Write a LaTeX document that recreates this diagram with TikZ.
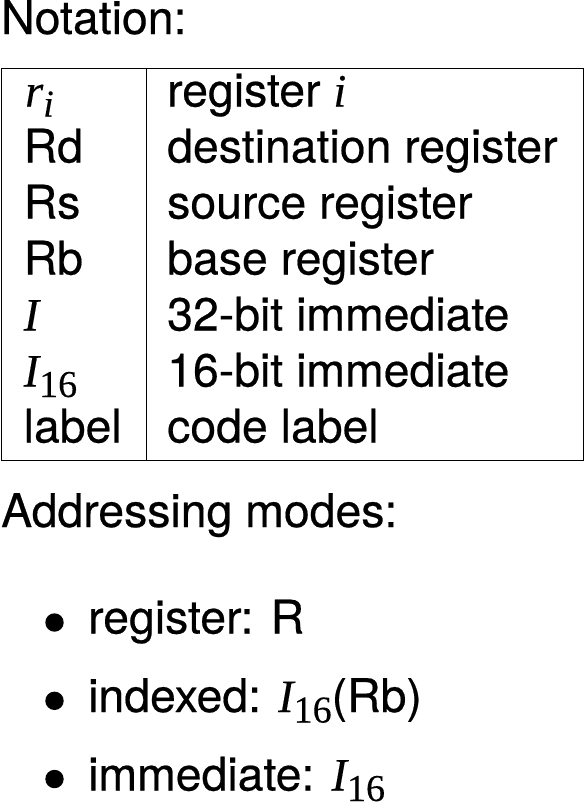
\documentclass[tikz,border=0pt]{standalone}
\usepackage{fontspec}
\setmainfont[FakeBold=0.4]{TeX Gyre Heros}
\newfontfamily\tms[FakeBold=0.2]{Liberation Serif}
\newcommand\mvar[1]{{\tms\itshape #1}}
\newcommand\msub[2]{\raisebox{-#1pt}{\fontsize{38}{38}\selectfont #2}}
\begin{document}
\begin{tikzpicture}[x=1pt,y=-1pt,
  txt/.style={anchor=base west,inner sep=0pt,font=\fontsize{46.4}{46.4}\selectfont},
  bul/.style={fill=black}]
\useasboundingbox (0,0) rectangle (585,803);
\node[txt] (notation) at (1,34) {Notation:};
\node[draw,line width=1pt,inner sep=0pt,minimum width=582pt,minimum height=392pt,anchor=north west] (tbl) at (1,68) {};
\draw[line width=1pt] ([xshift=145pt]tbl.north west) -- ([xshift=145pt]tbl.south west);
\node[txt] (k1) at (25,106.5) {\mvar{r}\msub{10}{\mvar{i}}};
\node[txt] (v1) at (167,106.5) {register \mvar{i}};
\node[txt] (k2) at (23.5,162.5) {Rd};
\node[txt] (v2) at (167,162.5) {destination register};
\node[txt] (k3) at (23.5,218.5) {Rs};
\node[txt] (v3) at (167,218.5) {source register};
\node[txt] (k4) at (23.5,274.5) {Rb};
\node[txt] (v4) at (167,274.5) {base register};
\node[txt] (k5) at (23.5,330.5) {\mvar{I}};
\node[txt] (v5) at (167,330.5) {32-bit immediate};
\node[txt] (k6) at (23.5,386.5) {\mvar{I}\msub{10.5}{\tms 16}};
\node[txt] (v6) at (167,386.5) {16-bit immediate};
\node[txt] (k7) at (23.5,442.5) {label};
\node[txt] (v7) at (167,442.5) {code label};
\node[txt] (addr) at (1,527) {Addressing modes:};
\coordinate (b1) at (54.5,622.5);
\coordinate (b2) at (54.5,700.8);
\coordinate (b3) at (54.5,779);
\fill[bul] (b1) circle[radius=9.2pt];
\fill[bul] (b2) circle[radius=9.2pt];
\fill[bul] (b3) circle[radius=9.2pt];
\node[txt] (m1) at (88,633.5) {register: R};
\node[txt] (m2) at (88,712) {indexed: \mvar{I}\msub{10.5}{\tms 16}(Rb)};
\node[txt] (m3) at (88,790.5) {immediate: \mvar{I}\msub{10.5}{\tms 16}};
\end{tikzpicture}
\end{document}
